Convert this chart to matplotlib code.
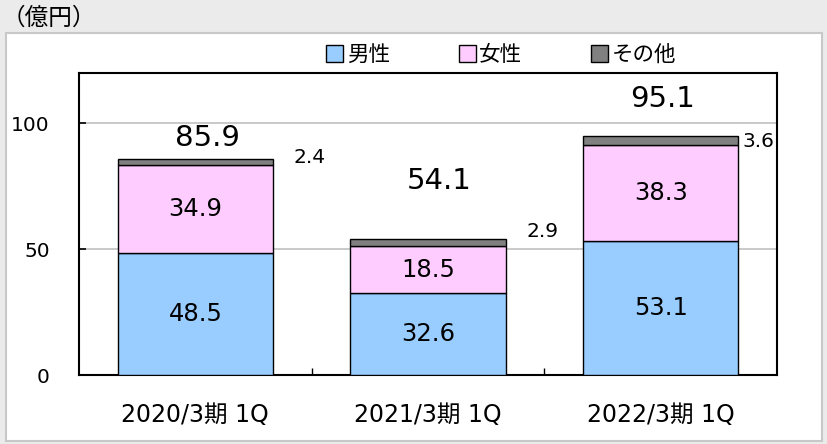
import matplotlib.pyplot as plt
from matplotlib.patches import Rectangle
import numpy as np

categories = ['2020/3期 1Q', '2021/3期 1Q', '2022/3期 1Q']
male = [48.5, 32.6, 53.1]
female = [34.9, 18.5, 38.3]
other = [2.4, 2.9, 3.6]
totals = [85.9, 54.1, 95.1]
series_names = ['男性', '女性', 'その他']
colors = ['#99ccff', '#ffccff', '#808080']

# label placement (data units)
total_pos = [(0.05, 94.0), (0.05, 77.0), (0.01, 109.6)]
other_pos = [(0.49, 86.5), (1.49, 57.0), (2.42, 92.8)]

FONT = ['DejaVu Sans', 'Noto Sans CJK JP']
plt.rcParams['font.family'] = FONT

fig = plt.figure(figsize=(8.27, 4.44), dpi=100)
fig.patch.set_facecolor('#ebebeb')
fig.patches.append(Rectangle((6 / 827, 3 / 444), 816 / 827, 408 / 444,
                             transform=fig.transFigure, facecolor='white',
                             edgecolor='#c8c8c8', linewidth=1.5, zorder=-5))
fig.text(2 / 827, 1 - 18 / 444, '（億円）', fontsize=17, va='center', ha='left')

ax = fig.add_axes([79 / 827, 69 / 444, 698 / 827, 302 / 444])
ax.set_zorder(2)
x = np.arange(len(categories))
w = 0.667
b1 = ax.bar(x, male, w, color=colors[0], edgecolor='black', linewidth=1, zorder=3)
b2 = ax.bar(x, female, w, bottom=male, color=colors[1], edgecolor='black',
            linewidth=1, zorder=3)
bot3 = np.array(male) + np.array(female)
b3 = ax.bar(x, other, w, bottom=bot3, color=colors[2], edgecolor='black',
            linewidth=1, zorder=3)

for i in range(len(categories)):
    ax.text(x[i], male[i] / 2, f'{male[i]:.1f}', ha='center', va='center',
            fontsize=17.5, zorder=4)
    ax.text(x[i], male[i] + female[i] / 2, f'{female[i]:.1f}', ha='center',
            va='center', fontsize=17.5, zorder=4)
    ax.text(total_pos[i][0] + x[i], total_pos[i][1], f'{totals[i]:.1f}',
            ha='center', va='center', fontsize=21, zorder=4)
    ax.text(other_pos[i][0], other_pos[i][1], f'{other[i]:.1f}',
            ha='center', va='center', fontsize=14.5, zorder=4)

ax.set_xlim(-0.5, 2.5)
ax.set_ylim(0, 120)
ax.set_yticks([0, 50, 100])
ax.set_xticks(x)
ax.set_xticklabels(categories)
ax.set_xticks([0.5, 1.5], minor=True)
ax.tick_params(axis='x', which='major', length=0, pad=20, labelsize=17)
ax.tick_params(axis='x', which='minor', direction='in', length=5, width=1)
ax.tick_params(axis='y', direction='in', length=5, width=1.2, pad=21,
               labelsize=14.5)
ax.yaxis.grid(True, color='#c0c0c0', linewidth=1.2, zorder=0)
ax.set_axisbelow(True)
for s in ax.spines.values():
    s.set_linewidth(1.5)

leg = fig.legend([b1, b2, b3], series_names, loc='center', ncol=3,
                 bbox_to_anchor=(501 / 827, 1 - 55 / 444), frameon=False,
                 fontsize=15.5, handlelength=0.8, handleheight=0.8,
                 handletextpad=0.15, columnspacing=3.2, borderaxespad=0)

fig.savefig('out.png', dpi=100, facecolor=fig.get_facecolor())
